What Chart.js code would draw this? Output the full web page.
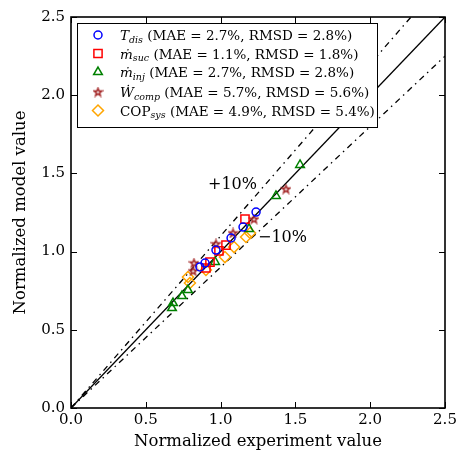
<!DOCTYPE html>
<html>
<head>
<meta charset="utf-8">
<script src="https://cdn.jsdelivr.net/npm/chart.js@4/dist/chart.umd.min.js"></script>
<style>
html,body{margin:0;padding:0;background:#fff;}
canvas{display:block;}
</style>
</head>
<body>
<canvas id="c" width="457" height="458"></canvas>
<script>
// ---- data ----
const tDisX = [1.237, 1.150, 1.070, 0.969, 0.896, 0.862];
const tDisY = [1.253, 1.157, 1.087, 1.010, 0.927, 0.902];
const mSucX = [1.163, 1.036, 0.989, 0.929, 0.902];
const mSucY = [1.208, 1.042, 1.004, 0.933, 0.895];
const mInjX = [1.531, 1.370, 1.190, 0.963, 0.782, 0.742, 0.682, 0.675];
const mInjY = [1.554, 1.356, 1.145, 0.934, 0.754, 0.716, 0.671, 0.639];
const wCompX = [1.437, 1.223, 1.083, 0.969, 0.822, 0.816];
const wCompY = [1.400, 1.208, 1.119, 1.049, 0.927, 0.876];
const copX = [1.197, 1.170, 1.090, 1.029, 0.902, 0.782, 0.795];
const copY = [1.119, 1.093, 1.029, 0.965, 0.882, 0.838, 0.799];

const refSlopes = [1.0, 1.1, 0.9];
const axisTicks = [0, 0.5, 1.0, 1.5, 2.0, 2.5];

const legendMain = ['T', '\u1E41', '\u1E41', '\u1E86', 'COP'];
const legendMainItalic = [true, true, true, true, false];
const legendSub = ['dis', 'suc', 'inj', 'comp', 'sys'];
const legendStats = [
  ' (MAE = 2.7%, RMSD = 2.8%)',
  ' (MAE = 1.1%, RMSD = 1.8%)',
  ' (MAE = 2.7%, RMSD = 2.8%)',
  ' (MAE = 5.7%, RMSD = 5.6%)',
  ' (MAE = 4.9%, RMSD = 5.4%)'
];
const annotTexts = ['+10%', '\u221210%'];
const annotX = [0.916, 1.25];
const annotY = [1.426, 1.087];

// ---- build ----
const SERIF = '"DejaVu Serif", serif';
function pts(xs, ys){ return xs.map((x,i)=>({x:x, y:ys[i]})); }

function makeStar(color){
  const c = document.createElement('canvas');
  c.width = 11; c.height = 11;
  const g = c.getContext('2d');
  const cx = 5.5, cy = 5.8, R = 4.1, r = 1.7;
  g.beginPath();
  for (let i=0;i<10;i++){
    const a = -Math.PI/2 + i*Math.PI/5;
    const rr = i%2===0 ? R : r;
    const px = cx + rr*Math.cos(a), py = cy + rr*Math.sin(a);
    if (i===0) g.moveTo(px,py); else g.lineTo(px,py);
  }
  g.closePath();
  g.strokeStyle = color; g.lineWidth = 1.5; g.lineJoin='miter';
  g.stroke();
  return c;
}
const starImg = makeStar('#a52a2a');

const series = [
  {data: pts(tDisX,tDisY), color:'#0000ff', style:'circle', radius:4},
  {data: pts(mSucX,mSucY), color:'#ff0000', style:'rect', radius:5.8},
  {data: pts(mInjX,mInjY), color:'#008000', style:'triangle', radius:5},
  {data: pts(wCompX,wCompY), color:'#a52a2a', style:starImg, radius:5},
  {data: pts(copX,copY), color:'#ffa500', style:'rectRot', radius:5.5}
];

const datasets = [];
refSlopes.forEach((s,i)=>{
  datasets.push({
    type:'line',
    data:[{x:0,y:0},{x:2.5,y:2.5*s}],
    borderColor:'#000', borderWidth: 1.3,
    borderDash: i===0 ? [] : [6,4.5,1.5,4.5],
    pointRadius:0, fill:false, order:10, tension:0
  });
});
series.forEach(s=>{
  datasets.push({
    type:'scatter',
    data:s.data,
    pointStyle:s.style,
    pointRadius:s.radius,
    pointHoverRadius:s.radius,
    borderColor:s.color,
    backgroundColor:'rgba(0,0,0,0)',
    pointBorderWidth:1.5,
    borderWidth:1.5,
    order:1
  });
});

const framePlugin = {
  id:'frame',
  afterDraw(chart){
    const ctx = chart.ctx, a = chart.chartArea;
    const xs = chart.scales.x, ys = chart.scales.y;
    ctx.save();
    // annotations
    ctx.fillStyle = '#000';
    ctx.font = '16px ' + SERIF;
    ctx.textBaseline = 'middle';
    ctx.textAlign = 'left';
    annotTexts.forEach((t,i)=>{
      ctx.fillText(t, xs.getPixelForValue(annotX[i]), ys.getPixelForValue(annotY[i]));
    });
    // inward ticks
    ctx.strokeStyle = '#000';
    ctx.lineWidth = 1;
    const L = 6;
    axisTicks.forEach(v=>{
      const px = Math.round(xs.getPixelForValue(v)) + 0.5;
      const py = Math.round(ys.getPixelForValue(v)) + 0.5;
      ctx.beginPath();
      ctx.moveTo(px, a.bottom); ctx.lineTo(px, a.bottom - L);
      ctx.moveTo(px, a.top); ctx.lineTo(px, a.top + L);
      ctx.moveTo(a.left, py); ctx.lineTo(a.left + L, py);
      ctx.moveTo(a.right, py); ctx.lineTo(a.right - L, py);
      ctx.stroke();
    });
    // frame
    ctx.lineWidth = 1.6;
    ctx.strokeRect(a.left, a.top, a.right - a.left, a.bottom - a.top);

    // legend
    const bx = 77.5, by = 23.5, bw = 300, bh = 104;
    ctx.fillStyle = '#fff';
    ctx.fillRect(bx, by, bw, bh);
    ctx.lineWidth = 1;
    ctx.strokeStyle = '#000';
    ctx.strokeRect(bx, by, bw, bh);
    const rowY = [35, 53.5, 72, 92, 110.5];
    series.forEach((s,i)=>{
      const y = rowY[i];
      ctx.save();
      ctx.strokeStyle = s.color;
      ctx.fillStyle = 'rgba(0,0,0,0)';
      ctx.lineWidth = 1.5;
      Chart.helpers.drawPoint(ctx, {pointStyle:s.style, radius:s.radius, rotation:0, borderWidth:1.5}, 98, y);
      ctx.restore();
      ctx.fillStyle = '#000';
      ctx.textBaseline = 'alphabetic';
      let x = 120;
      const base = y + 5;
      ctx.font = (legendMainItalic[i] ? 'italic ' : '') + '13.5px ' + SERIF;
      ctx.fillText(legendMain[i], x, base);
      x += ctx.measureText(legendMain[i]).width;
      ctx.font = 'italic 9.5px ' + SERIF;
      ctx.fillText(legendSub[i], x, base + 2.5);
      x += ctx.measureText(legendSub[i]).width;
      ctx.font = '13.5px ' + SERIF;
      ctx.fillText(legendStats[i], x, base);
    });
    ctx.restore();
  }
};

const tickFont = {family: SERIF, size: 15};
const titleFont = {family: SERIF, size: 16.5};

new Chart(document.getElementById('c'), {
  type:'scatter',
  data:{datasets:datasets},
  options:{
    responsive:false,
    animation:false,
    events:[],
    layout:{padding:{top:17, right:12, left:0, bottom:0}},
    plugins:{legend:{display:false}, tooltip:{enabled:false}},
    scales:{
      x:{
        type:'linear', min:0, max:2.5,
        afterBuildTicks(s){ s.ticks = axisTicks.map(v=>({value:v})); },
        ticks:{callback:v=>v.toFixed(1), font:tickFont, color:'#000', padding:3, maxRotation:0, autoSkip:false},
        grid:{display:false, drawTicks:false},
        border:{display:false},
        title:{display:true, text:'Normalized experiment value', font:titleFont, color:'#000', padding:{top:0,bottom:6}},
        afterFit(s){ s.height = 50; s.paddingLeft = 0; s.paddingRight = 0; }
      },
      y:{
        type:'linear', min:0, max:2.5,
        afterBuildTicks(s){ s.ticks = axisTicks.map(v=>({value:v})); },
        ticks:{callback:v=>v.toFixed(1), font:tickFont, color:'#000', padding:6, autoSkip:false},
        grid:{display:false, drawTicks:false},
        border:{display:false},
        title:{display:true, text:'Normalized model value', font:titleFont, color:'#000', padding:{top:11,bottom:10}},
        afterFit(s){ s.width = 71; s.paddingTop = 0; s.paddingBottom = 0; }
      }
    }
  },
  plugins:[framePlugin]
});
</script>
</body>
</html>
